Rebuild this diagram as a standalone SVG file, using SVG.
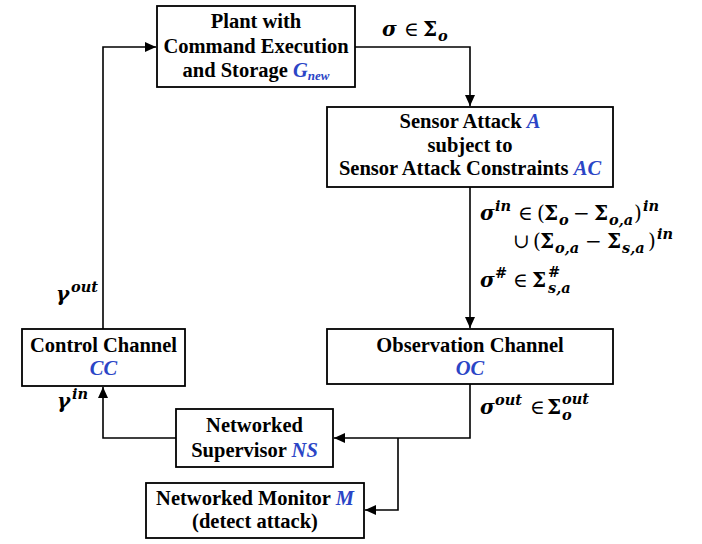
<svg xmlns="http://www.w3.org/2000/svg" width="702" height="544" viewBox="0 0 702 544">
<style>
.box{fill:#fff;stroke:#000;stroke-width:1.8}
.t{font-family:'Liberation Serif','Times New Roman',serif;font-weight:700;font-size:20.5px;fill:#000;text-anchor:middle}
.b{fill:#2b45c6;font-style:italic}
.m{font-family:'DejaVu Serif',serif;font-weight:700;font-size:20px;fill:#000}
.i{font-style:italic}
.n{font-weight:400}
.s{font-size:14.5px;font-style:italic}
.c{fill:none;stroke:#000;stroke-width:1.6}
</style>
<defs>
<marker id="ah" markerUnits="userSpaceOnUse" markerWidth="12" markerHeight="12" viewBox="0 0 12 12" refX="11" refY="6" orient="auto">
<path d="M0,1 L11,6 L0,11 Z" fill="#000"/>
</marker>
</defs>
<g id="connectors">
<path class="c" d="M355,47 H470 V106" marker-end="url(#ah)"/>
<path class="c" d="M470,187 V328" marker-end="url(#ah)"/>
<path class="c" d="M470,384 V438 H334" marker-end="url(#ah)"/>
<path class="c" d="M398,438 V510 H365" marker-end="url(#ah)"/>
<path class="c" d="M176,438 H103 V387" marker-end="url(#ah)"/>
<path class="c" d="M103,329 V47 H156" marker-end="url(#ah)"/>
</g>
<g id="labels">
<text class="m"><tspan class="i" x="382" y="36">σ</tspan><tspan class="n" x="404" y="36">∈</tspan><tspan x="423" y="36">Σ</tspan><tspan class="s" x="438" y="41">o</tspan></text>
<text class="m"><tspan class="i" x="480" y="220">σ</tspan><tspan class="s" x="495" y="211">in</tspan><tspan class="n" x="518" y="220">∈</tspan><tspan class="n" x="537" y="220">(</tspan><tspan x="544" y="220">Σ</tspan><tspan class="s" x="559" y="225">o</tspan><tspan class="n" x="573" y="220">−</tspan><tspan x="594" y="220">Σ</tspan><tspan class="s" x="609" y="225">o,a</tspan><tspan class="n" x="634" y="220">)</tspan><tspan class="s" x="643" y="211">in</tspan></text>
<text class="m"><tspan class="n" x="513" y="248">∪</tspan><tspan class="n" x="533" y="248">(</tspan><tspan x="540" y="248">Σ</tspan><tspan class="s" x="555" y="253">o,a</tspan><tspan class="n" x="585" y="248">−</tspan><tspan x="607" y="248">Σ</tspan><tspan class="s" x="622" y="253">s,a</tspan><tspan class="n" x="648" y="248">)</tspan><tspan class="s" x="657" y="239">in</tspan></text>
<text class="m"><tspan class="i" x="480" y="287">σ</tspan><tspan class="s" x="495" y="278">#</tspan><tspan class="n" x="513" y="287">∈</tspan><tspan x="532" y="287">Σ</tspan><tspan class="s" x="548" y="277">#</tspan><tspan class="s" x="548" y="293">s,a</tspan></text>
<text class="m"><tspan class="i" x="56" y="301">γ</tspan><tspan class="s" x="71" y="292">out</tspan></text>
<text class="m"><tspan class="i" x="57" y="408">γ</tspan><tspan class="s" x="72" y="399">in</tspan></text>
<text class="m"><tspan class="i" x="480" y="414">σ</tspan><tspan class="s" x="495" y="405">out</tspan><tspan class="n" x="530" y="414">∈</tspan><tspan x="547" y="414">Σ</tspan><tspan class="s" x="562" y="404">out</tspan><tspan class="s" x="562" y="420">o</tspan></text>
</g>
<g id="plant">
<rect class="box" x="157" y="6" width="198" height="81"/>
<text class="t" x="256" y="28">Plant with</text>
<text class="t" x="256" y="53">Command Execution</text>
<text class="t" x="256" y="77">and Storage <tspan class="b">G</tspan><tspan class="b" font-size="13" dy="3">new</tspan></text>
</g>
<g id="sensor-attack">
<rect class="box" x="327" y="107" width="286" height="80"/>
<text class="t" x="470" y="128">Sensor Attack <tspan class="b">A</tspan></text>
<text class="t" x="470" y="152">subject to</text>
<text class="t" x="470" y="175">Sensor Attack Constraints <tspan class="b">AC</tspan></text>
</g>
<g id="observation-channel">
<rect class="box" x="327" y="329" width="286" height="55"/>
<text class="t" x="470" y="352">Observation Channel</text>
<text class="t b" x="470" y="375">OC</text>
</g>
<g id="control-channel">
<rect class="box" x="22" y="329" width="163" height="57"/>
<text class="t" x="103.5" y="352">Control Channel</text>
<text class="t b" x="103.5" y="375">CC</text>
</g>
<g id="networked-supervisor">
<rect class="box" x="176" y="409" width="157" height="58"/>
<text class="t" x="254.5" y="432">Networked</text>
<text class="t" x="254.5" y="457">Supervisor <tspan class="b">NS</tspan></text>
</g>
<g id="networked-monitor">
<rect class="box" x="146" y="483" width="218" height="55"/>
<text class="t" x="255" y="505">Networked Monitor <tspan class="b">M</tspan></text>
<text class="t" x="255" y="528">(detect attack)</text>
</g>
</svg>
